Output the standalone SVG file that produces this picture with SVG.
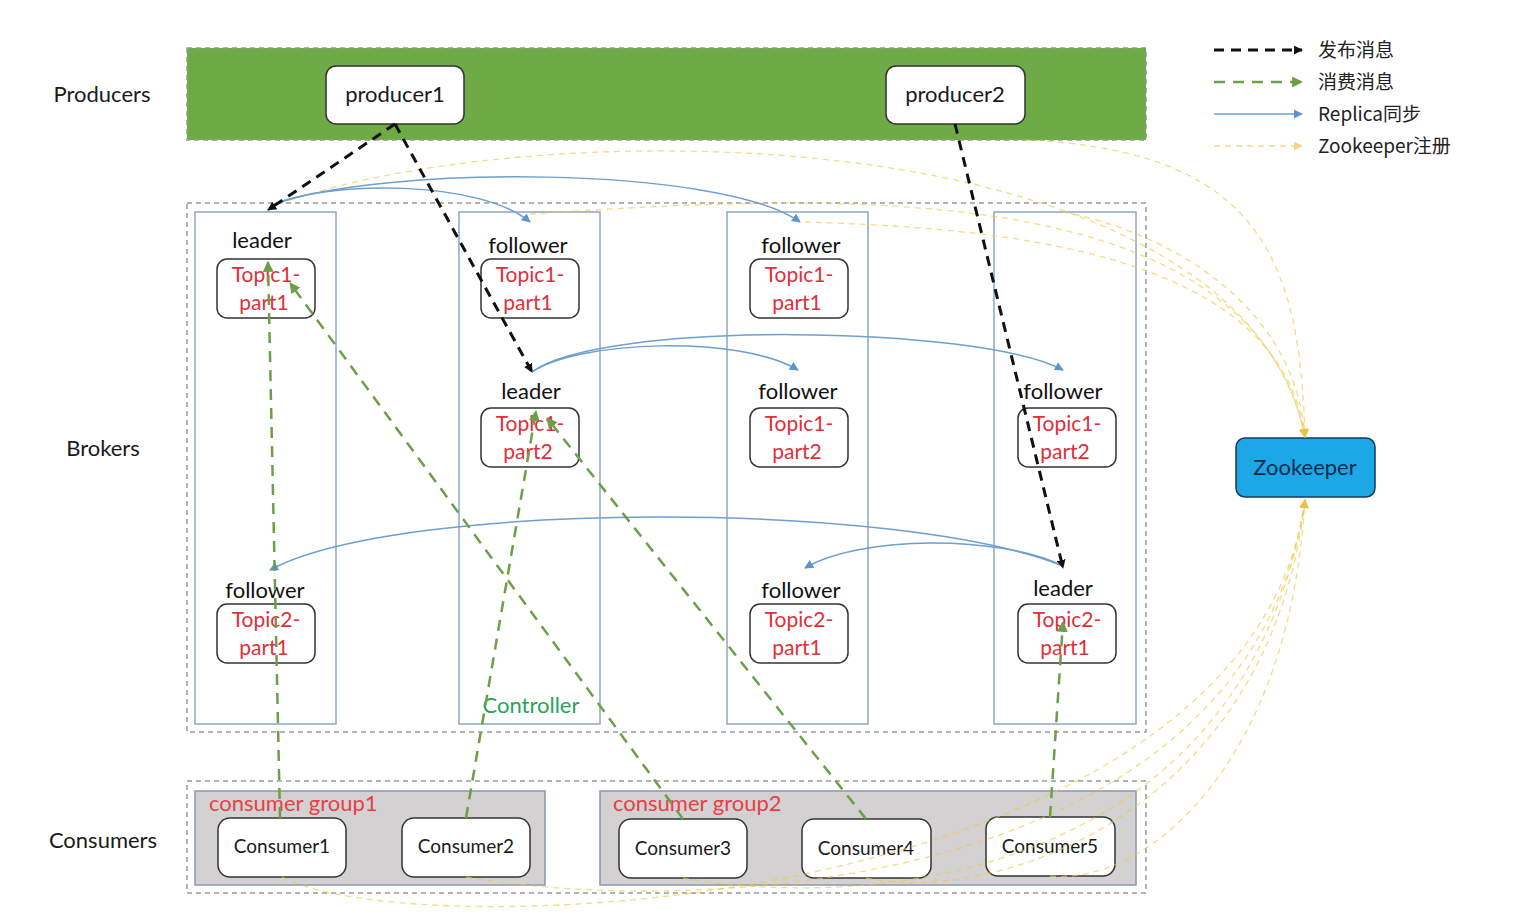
<svg xmlns="http://www.w3.org/2000/svg" width="1526" height="920" viewBox="0 0 1526 920">
<defs>
<style>
text{font-family:Lato,"Open Sans","Noto Sans CJK SC",sans-serif}
.sec{font-size:22px;fill:#1a1a1a;text-anchor:middle}
.pname{font-size:22px;fill:#1a1a1a;text-anchor:middle}
.role{font-size:22px;fill:#111;text-anchor:middle}
.topic{font-size:21px;fill:#e0303a;text-anchor:middle}
.cname{font-size:19px;fill:#1a1a1a;text-anchor:middle}
.grp{font-size:22px;fill:#e8404a}
.leg{font-size:19px;fill:#222;font-family:"Noto Sans CJK SC",Lato,sans-serif}
.wbox{fill:#fff;stroke:#333;stroke-width:1.5}
.col{fill:#fff;stroke:#8ea6c6;stroke-width:1.5}
.outer{fill:none;stroke:#9a9a9a;stroke-width:1.5;stroke-dasharray:5 4}
.pub{stroke:#111;stroke-width:3;stroke-dasharray:10 7;fill:none}
.con{stroke:#6e9e48;stroke-width:2.5;stroke-dasharray:11 8;fill:none}
.rep{stroke:#6d9fcf;stroke-width:1.5;fill:none}
.zk{stroke:#efc948;stroke-width:1.3;stroke-dasharray:6 5;fill:none;opacity:.65}
</style>
<marker id="aBlk" viewBox="0 0 10 10" refX="9" refY="5" markerWidth="9" markerHeight="9" markerUnits="userSpaceOnUse" orient="auto"><path d="M0,0 L10,5 L0,10 z" fill="#111"/></marker>
<marker id="aGrn" viewBox="0 0 10 10" refX="9" refY="5" markerWidth="11" markerHeight="11" markerUnits="userSpaceOnUse" orient="auto"><path d="M0,0 L10,5 L0,10 z" fill="#6e9e48"/></marker>
<marker id="aBlu" viewBox="0 0 10 10" refX="9" refY="5" markerWidth="9" markerHeight="9" markerUnits="userSpaceOnUse" orient="auto"><path d="M0,0 L10,5 L0,10 z" fill="#5b95cc"/></marker>
<marker id="aYel" viewBox="0 0 10 10" refX="9" refY="5" markerWidth="9" markerHeight="9" markerUnits="userSpaceOnUse" orient="auto"><path d="M0,0 L10,5 L0,10 z" fill="#efc040"/></marker>
</defs>
<rect width="1526" height="920" fill="#fff"/>

<!-- section labels -->
<text class="sec" x="102" y="102">Producers</text>
<text class="sec" x="103" y="456">Brokers</text>
<text class="sec" x="103" y="848">Consumers</text>

<!-- producers band -->
<g id="producers">
<rect x="187" y="48" width="959" height="92" fill="#6eab46" stroke="#8f9f86" stroke-width="1.5" stroke-dasharray="5 4"/>
</g>
<g id="producer1"><rect class="wbox" x="326" y="66" width="138" height="58" rx="10"/><text class="pname" x="395" y="102">producer1</text></g>
<g id="producer2"><rect class="wbox" x="886" y="66" width="139" height="58" rx="10"/><text class="pname" x="955" y="102">producer2</text></g>

<!-- brokers -->
<g id="brokers"><rect class="outer" x="187" y="203" width="959" height="529"/></g>
<g id="broker1">
<rect class="col" x="195" y="212" width="141" height="512"/>
<text class="role" x="262" y="248">leader</text>
<rect class="wbox" x="217" y="259" width="98" height="59" rx="10"/>
<text class="topic" x="266" y="282">Topic1-</text><text class="topic" x="264" y="310">part1</text>
<text class="role" x="265" y="598">follower</text>
<rect class="wbox" x="217" y="604" width="98" height="59" rx="10"/>
<text class="topic" x="266" y="627">Topic2-</text><text class="topic" x="264" y="655">part1</text>
</g>
<g id="broker2">
<rect class="col" x="459" y="212" width="141" height="512"/>
<text class="role" x="528" y="253">follower</text>
<rect class="wbox" x="481" y="259" width="98" height="59" rx="10"/>
<text class="topic" x="530" y="282">Topic1-</text><text class="topic" x="528" y="310">part1</text>
<text class="role" x="531" y="399">leader</text>
<rect class="wbox" x="481" y="408" width="98" height="59" rx="10"/>
<text class="topic" x="530" y="431">Topic1-</text><text class="topic" x="528" y="459">part2</text>
<text x="531" y="713" style="font-size:22px;fill:#27a35a;text-anchor:middle">Controller</text>
</g>
<g id="broker3">
<rect class="col" x="727" y="212" width="141" height="512"/>
<text class="role" x="801" y="253">follower</text>
<rect class="wbox" x="750" y="259" width="98" height="59" rx="10"/>
<text class="topic" x="799" y="282">Topic1-</text><text class="topic" x="797" y="310">part1</text>
<text class="role" x="798" y="399">follower</text>
<rect class="wbox" x="750" y="408" width="98" height="59" rx="10"/>
<text class="topic" x="799" y="431">Topic1-</text><text class="topic" x="797" y="459">part2</text>
<text class="role" x="801" y="598">follower</text>
<rect class="wbox" x="750" y="604" width="98" height="59" rx="10"/>
<text class="topic" x="799" y="627">Topic2-</text><text class="topic" x="797" y="655">part1</text>
</g>
<g id="broker4">
<rect class="col" x="994" y="212" width="142" height="512"/>
<text class="role" x="1063" y="399">follower</text>
<rect class="wbox" x="1018" y="408" width="98" height="59" rx="10"/>
<text class="topic" x="1067" y="431">Topic1-</text><text class="topic" x="1065" y="459">part2</text>
<text class="role" x="1063" y="596">leader</text>
<rect class="wbox" x="1018" y="604" width="98" height="59" rx="10"/>
<text class="topic" x="1067" y="627">Topic2-</text><text class="topic" x="1065" y="655">part1</text>
</g>

<!-- consumers -->
<g id="consumers"><rect class="outer" x="187" y="781" width="959" height="112"/></g>
<g id="group1">
<rect x="195" y="791" width="350" height="94" fill="#d3d1d1" stroke="#8a97aa" stroke-width="1.5"/>
<text class="grp" x="209" y="811">consumer group1</text>
</g>
<g id="group2">
<rect x="600" y="791" width="536" height="94" fill="#d3d1d1" stroke="#8a97aa" stroke-width="1.5"/>
<text class="grp" x="613" y="811">consumer group2</text>
</g>
<g id="consumer1"><rect class="wbox" x="218" y="818" width="128" height="59" rx="12"/><text class="cname" x="282" y="853">Consumer1</text></g>
<g id="consumer2"><rect class="wbox" x="402" y="818" width="128" height="59" rx="12"/><text class="cname" x="466" y="853">Consumer2</text></g>
<g id="consumer3"><rect class="wbox" x="619" y="819" width="128" height="59" rx="12"/><text class="cname" x="683" y="855">Consumer3</text></g>
<g id="consumer4"><rect class="wbox" x="802" y="819" width="129" height="59" rx="12"/><text class="cname" x="866" y="855">Consumer4</text></g>
<g id="consumer5"><rect class="wbox" x="986" y="817" width="129" height="59" rx="12"/><text class="cname" x="1050" y="853">Consumer5</text></g>

<!-- zookeeper -->
<g id="zookeeper">
<rect x="1236" y="438" width="139" height="59" rx="9" fill="#1ca8e6" stroke="#153a5c" stroke-width="1.5"/>
<text x="1305" y="475" style="font-size:22px;fill:#0e2a4e;text-anchor:middle">Zookeeper</text>
</g>

<!-- legend -->
<g id="legend">
<line class="pub" x1="1214" y1="50" x2="1302" y2="50" stroke-width="2.5" stroke-dasharray="8 6" marker-end="url(#aBlk)"/>
<line class="con" x1="1214" y1="82" x2="1302" y2="82" stroke-width="2" stroke-dasharray="8 6" marker-end="url(#aGrn)"/>
<line class="rep" x1="1214" y1="114" x2="1302" y2="114" stroke-width="2" marker-end="url(#aBlu)"/>
<line class="zk" x1="1214" y1="146" x2="1302" y2="146" stroke-width="2" stroke-dasharray="8 6" opacity="1" marker-end="url(#aYel)"/>
<text class="leg" x="1318" y="57">发布消息</text>
<text class="leg" x="1318" y="89">消费消息</text>
<text class="leg" x="1318" y="121">Replica同步</text>
<text class="leg" x="1318" y="153">Zookeeper注册</text>
</g>

<!-- connectors -->
<g id="connectors">
<!-- zookeeper registration -->
<path class="zk" d="M268,208 C 520,110 1240,110 1305,437" marker-end="url(#aYel)"/>
<path class="zk" d="M530,214 C 820,195 1250,170 1305,437" marker-end="url(#aYel)"/>
<path class="zk" d="M805,222 C 1000,228 1280,250 1305,437" marker-end="url(#aYel)"/>
<path class="zk" d="M1025,140 C 1260,150 1300,260 1305,437" marker-end="url(#aYel)"/>
<path class="zk" d="M1063,212 C 1160,230 1295,300 1305,437" marker-end="url(#aYel)"/>
<path class="zk" d="M282,877 C 420,950 1250,910 1305,500" marker-end="url(#aYel)"/>
<path class="zk" d="M466,877 C 700,918 1250,890 1305,500" marker-end="url(#aYel)"/>
<path class="zk" d="M683,878 C 900,915 1250,860 1305,500" marker-end="url(#aYel)"/>
<path class="zk" d="M866,878 C 1000,905 1270,810 1305,500" marker-end="url(#aYel)"/>
<path class="zk" d="M1050,876 C 1150,885 1290,760 1305,500" marker-end="url(#aYel)"/>

<!-- replica sync -->
<path class="rep" d="M272,205 C 330,180 480,180 530,222" marker-end="url(#aBlu)"/>
<path class="rep" d="M272,205 C 380,165 720,165 800,222" marker-end="url(#aBlu)"/>
<path class="rep" d="M532,372 C 580,340 740,335 798,370" marker-end="url(#aBlu)"/>
<path class="rep" d="M532,372 C 600,320 980,325 1063,370" marker-end="url(#aBlu)"/>
<path class="rep" d="M1063,566 C 900,500 400,500 270,570" marker-end="url(#aBlu)"/>
<path class="rep" d="M1063,566 C 1000,535 860,535 805,568" marker-end="url(#aBlu)"/>

<!-- publish -->
<line class="pub" x1="395" y1="124" x2="268" y2="210" marker-end="url(#aBlk)"/>
<line class="pub" x1="395" y1="124" x2="532" y2="372" marker-end="url(#aBlk)"/>
<line class="pub" x1="955" y1="124" x2="1063" y2="568" marker-end="url(#aBlk)"/>

<!-- consume -->
<line class="con" x1="280" y1="818" x2="268" y2="262" marker-end="url(#aGrn)"/>
<line class="con" x1="466" y1="818" x2="536" y2="411" marker-end="url(#aGrn)"/>
<line class="con" x1="683" y1="819" x2="290" y2="283" marker-end="url(#aGrn)"/>
<line class="con" x1="866" y1="819" x2="547" y2="418" marker-end="url(#aGrn)"/>
<line class="con" x1="1050" y1="817" x2="1063" y2="622" marker-end="url(#aGrn)"/>
</g>
</svg>
